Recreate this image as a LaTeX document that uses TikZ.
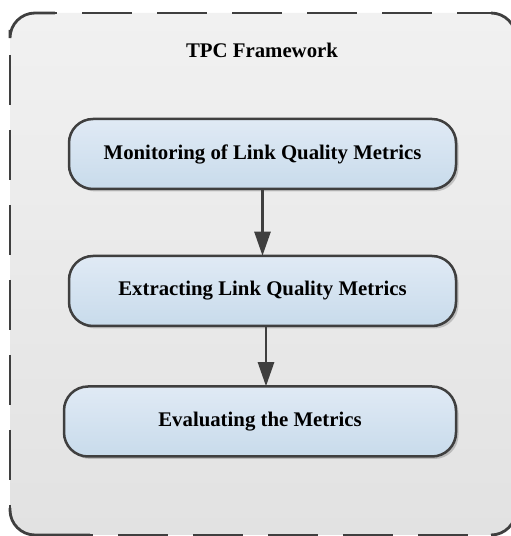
\documentclass[tikz,border=0pt]{standalone}
\usepackage{fontspec}
\setmainfont{Liberation Serif}
\usetikzlibrary{arrows.meta,shadows}
\definecolor{edgegray}{HTML}{3F3F3F}
\definecolor{frametop}{HTML}{F1F1F1}
\definecolor{framebot}{HTML}{E2E2E2}
\definecolor{boxtop}{HTML}{E0EAF5}
\definecolor{boxbot}{HTML}{C8DBEB}
\tikzset{
  framesolid/.style={draw=edgegray, line width=2.8pt, line cap=butt},
  framedash/.style={framesolid, dash pattern=on 50pt off 25pt},
  stepbox/.style={draw=edgegray, line width=2.5pt, rounded corners=24pt,
    top color=boxtop, bottom color=boxbot,
    minimum width=387pt, minimum height=70pt, inner sep=0pt,
    font=\fontsize{20.8}{25}\selectfont\bfseries,
    drop shadow={shadow xshift=2.5pt, shadow yshift=-2.5pt, opacity=0.18, fill=black}},
  titletext/.style={font=\fontsize{20.8}{25}\selectfont\bfseries, inner sep=0pt},
  flow/.style={draw=edgegray, line width=2.5pt,
    -{Triangle[width=16pt,length=24pt]}, shorten >=-1pt}
}
\begin{document}
\begin{tikzpicture}[x=1pt,y=1pt]
  \useasboundingbox (0,0) rectangle (511,536);
  \clip (0,0) rectangle (511,536);
  % frame background
  \shade[top color=frametop, bottom color=framebot, rounded corners=25pt]
    (10,1) rectangle (516,523);
  % frame border
  \draw[framesolid] (10,506) -- (10,498) arc (180:90:25) -- (55,523);
  \draw[framedash, dash phase=48pt] (55,523) -- (491,523);
  \draw[framesolid] (491,523) arc (90:0:25);
  \draw[framesolid] (516,26) arc (0:-90:25);
  \draw[framedash, dash phase=47pt] (90,1) -- (491,1);
  \draw[framesolid] (90,1) -- (35,1) arc (270:180:25) -- (10,28);
  \draw[framedash, dash phase=50pt] (10,506) -- (10,28);
  % title
  \node[titletext] (title) at (262,486) {TPC Framework};
  % steps
  \node[stepbox] (b1) at (262.5,382) {Monitoring of Link Quality Metrics};
  \node[stepbox] (b2) at (262.5,245) {Extracting Link Quality Metrics};
  \node[stepbox, minimum width=392pt] (b3) at (260,114.5) {Evaluating the Metrics};
  % connectors
  \draw[flow] (b1.south) -- (b2.north);
  \draw[flow] ([xshift=3.5pt]b2.south) -- ([xshift=3.5pt]b2.south |- b3.north);
\end{tikzpicture}
\end{document}
